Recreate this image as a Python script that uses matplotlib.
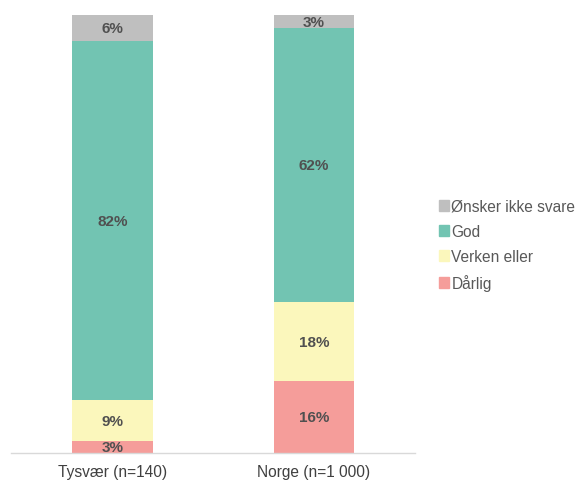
import matplotlib
matplotlib.use("Agg")
import matplotlib.pyplot as plt
from matplotlib.patches import Patch

plt.rcParams['font.family'] = ['Liberation Sans', 'DejaVu Sans']

categories = ["Tysvær (n=140)", "Norge (n=1 000)"]
series_names = ["Dårlig", "Verken eller", "God", "Ønsker ikke svare"]
darlig = [2.8, 16.4]
verken = [9.3, 18.2]
god = [82.0, 62.4]
onsker = [5.9, 3.0]
colors = ["#F59D9A", "#FBF7BC", "#72C4B2", "#BFBFBF"]

fig = plt.figure(figsize=(5.79, 4.81), dpi=100)
ax = fig.add_axes([11/579, 26.7/481, 404/579, 438.3/481])

x = [0, 1]
bottoms = [0.0, 0.0]
for name, vals, c in zip(series_names, [darlig, verken, god, onsker], colors):
    ax.bar(x, vals, bottom=bottoms, width=0.40, color=c, label=name)
    for xi, v, b in zip(x, vals, bottoms):
        ax.text(xi, b + v / 2, f"{round(v):d}%", ha="center", va="center",
                fontsize=11, fontweight="bold", color="#505050")
    bottoms = [b + v for b, v in zip(bottoms, vals)]

ax.set_xlim(-0.505, 1.502)
ax.set_ylim(0, 100)
ax.set_yticks([])
ax.set_xticks(x)
ax.set_xticklabels(categories, fontsize=11.2, color="#404040")
ax.tick_params(axis="x", length=0, pad=8)
for s in ["top", "right", "left"]:
    ax.spines[s].set_visible(False)
ax.spines["bottom"].set_color("#D9D9D9")
ax.spines["bottom"].set_linewidth(1)

handles = [Patch(color=c, label=n) for n, c in zip(series_names, colors)][::-1]
fig.legend(handles=handles, loc="center left", bbox_to_anchor=(425/579, 1 - 246/481),
           frameon=False, fontsize=11.2, handlelength=0.65, handleheight=0.65,
           handletextpad=0.15, labelspacing=0.65, labelcolor="#595959")

fig.savefig("out.png", dpi=100)
